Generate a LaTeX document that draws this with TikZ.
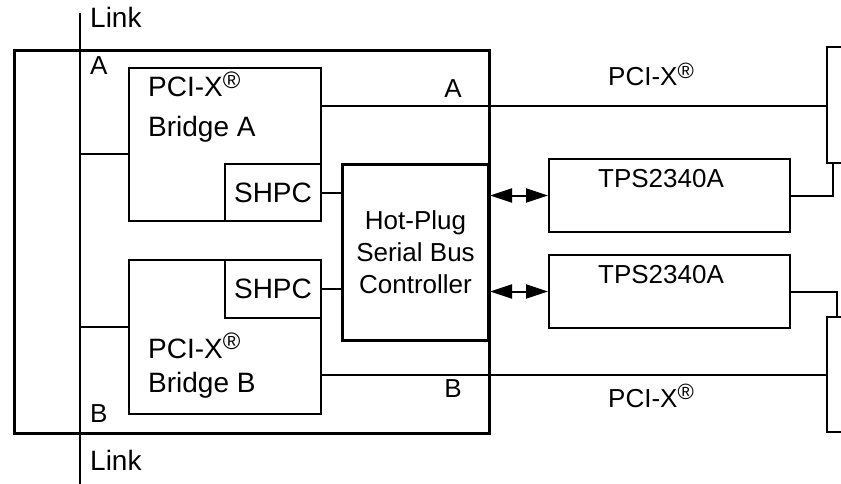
\documentclass[tikz,border=0pt]{standalone}
\usepackage{fontspec}
\setmainfont{Liberation Sans}
\usetikzlibrary{arrows.meta}

\newcommand{\pcixreg}{PCI-X\raisebox{0.3em}{\scalebox{0.85}{\textregistered}}}

\tikzset{
  blk/.style={draw, line width=2pt, inner sep=0pt, anchor=north west},
  heavy/.style={draw, line width=3pt, inner sep=0pt, anchor=north west},
  wire/.style={line width=2pt},
  slot/.style={line width=2.5pt},
  lbl/.style={inner sep=0pt, anchor=base west, font=\fontsize{26}{30}\selectfont},
  big/.style={font=\fontsize{28}{32}\selectfont},
  bus/.style={line width=2pt, {Triangle[length=22pt,width=14pt]}-{Triangle[length=22pt,width=14pt]}}
}

\begin{document}
\begin{tikzpicture}[x=1pt,y=-1pt]
\useasboundingbox (0,0) rectangle (841,484);

\node[heavy, minimum width=475, minimum height=383] (card) at (13,49) {};
\coordinate (linktop) at (80,13);
\coordinate (linkbot) at (80,484);
\draw[wire] (linktop) -- (linkbot);
\node[lbl, big] (linkA) at (90,28) {Link};
\node[lbl, big] (linkB) at (90,470) {Link};
\node[lbl] (portA) at (90,75) {A};
\node[lbl] (portB) at (90,422) {B};

\node[blk, minimum width=192, minimum height=153] (brA) at (128,67) {};
\node[blk, minimum width=96, minimum height=57, font=\fontsize{28}{32}\selectfont] (shA) at (224,163) {SHPC};
\node[lbl, big] (brAt1) at (148,97) {\pcixreg};
\node[lbl, big] (brAt2) at (148,137) {Bridge A};

\node[blk, minimum width=192, minimum height=154] (brB) at (128,259) {};
\node[blk, minimum width=96, minimum height=58, font=\fontsize{28}{32}\selectfont] (shB) at (224,259) {SHPC};
\node[lbl, big] (brBt1) at (148,358) {\pcixreg};
\node[lbl, big] (brBt2) at (148,392) {Bridge B};

\node[heavy, minimum width=146, minimum height=176, align=center,
  font=\fontsize{26}{32}\selectfont] (hp) at (341,163) {Hot-Plug\\Serial Bus\\Controller};

\node[blk, minimum width=241, minimum height=73] (tpsA) at (548,158) {};
\node[blk, minimum width=241, minimum height=73] (tpsB) at (548,254) {};
\node[lbl, anchor=base] (tpsAt) at (661,187) {TPS2340A};
\node[lbl, anchor=base] (tpsBt) at (661,283) {TPS2340A};

\coordinate (jA) at (80,154);
\coordinate (jB) at (80,327);
\draw[wire] (jA) -- (jA -| brA.west);
\draw[wire] (jB) -- (jB -| brB.west);
\draw[wire] (shA.east) -- (shA.east -| hp.west);
\draw[wire] (shB.east) -- (shB.east -| hp.west);

\coordinate (pA) at (827,106);
\coordinate (pB) at (827,375);
\draw[wire] (pA -| brA.east) -- (pA);
\draw[wire] (pB -| brB.east) -- (pB);
\node[lbl, anchor=base east] (busA) at (462,98) {A};
\node[lbl, anchor=base east] (busB) at (462,397) {B};
\node[lbl] (pciA) at (608,86) {\pcixreg};
\node[lbl] (pciB) at (608,407) {\pcixreg};

\draw[bus] (hp.east |- tpsA.west) -- (tpsA.west);
\draw[bus] (hp.east |- tpsB.west) -- (tpsB.west);

\coordinate (sAtop) at (827,47);
\coordinate (sAbot) at (827,163);
\coordinate (sBtop) at (827,317);
\coordinate (sBbot) at (827,432);
\draw[slot] (841,47) -- (sAtop) -- (sAbot) -- (841,163);
\draw[slot] (841,317) -- (sBtop) -- (sBbot) -- (841,432);
\draw[wire] (tpsA.east) -| (833,163);
\draw[wire] (tpsB.east) -| (837,317);
\end{tikzpicture}
\end{document}
